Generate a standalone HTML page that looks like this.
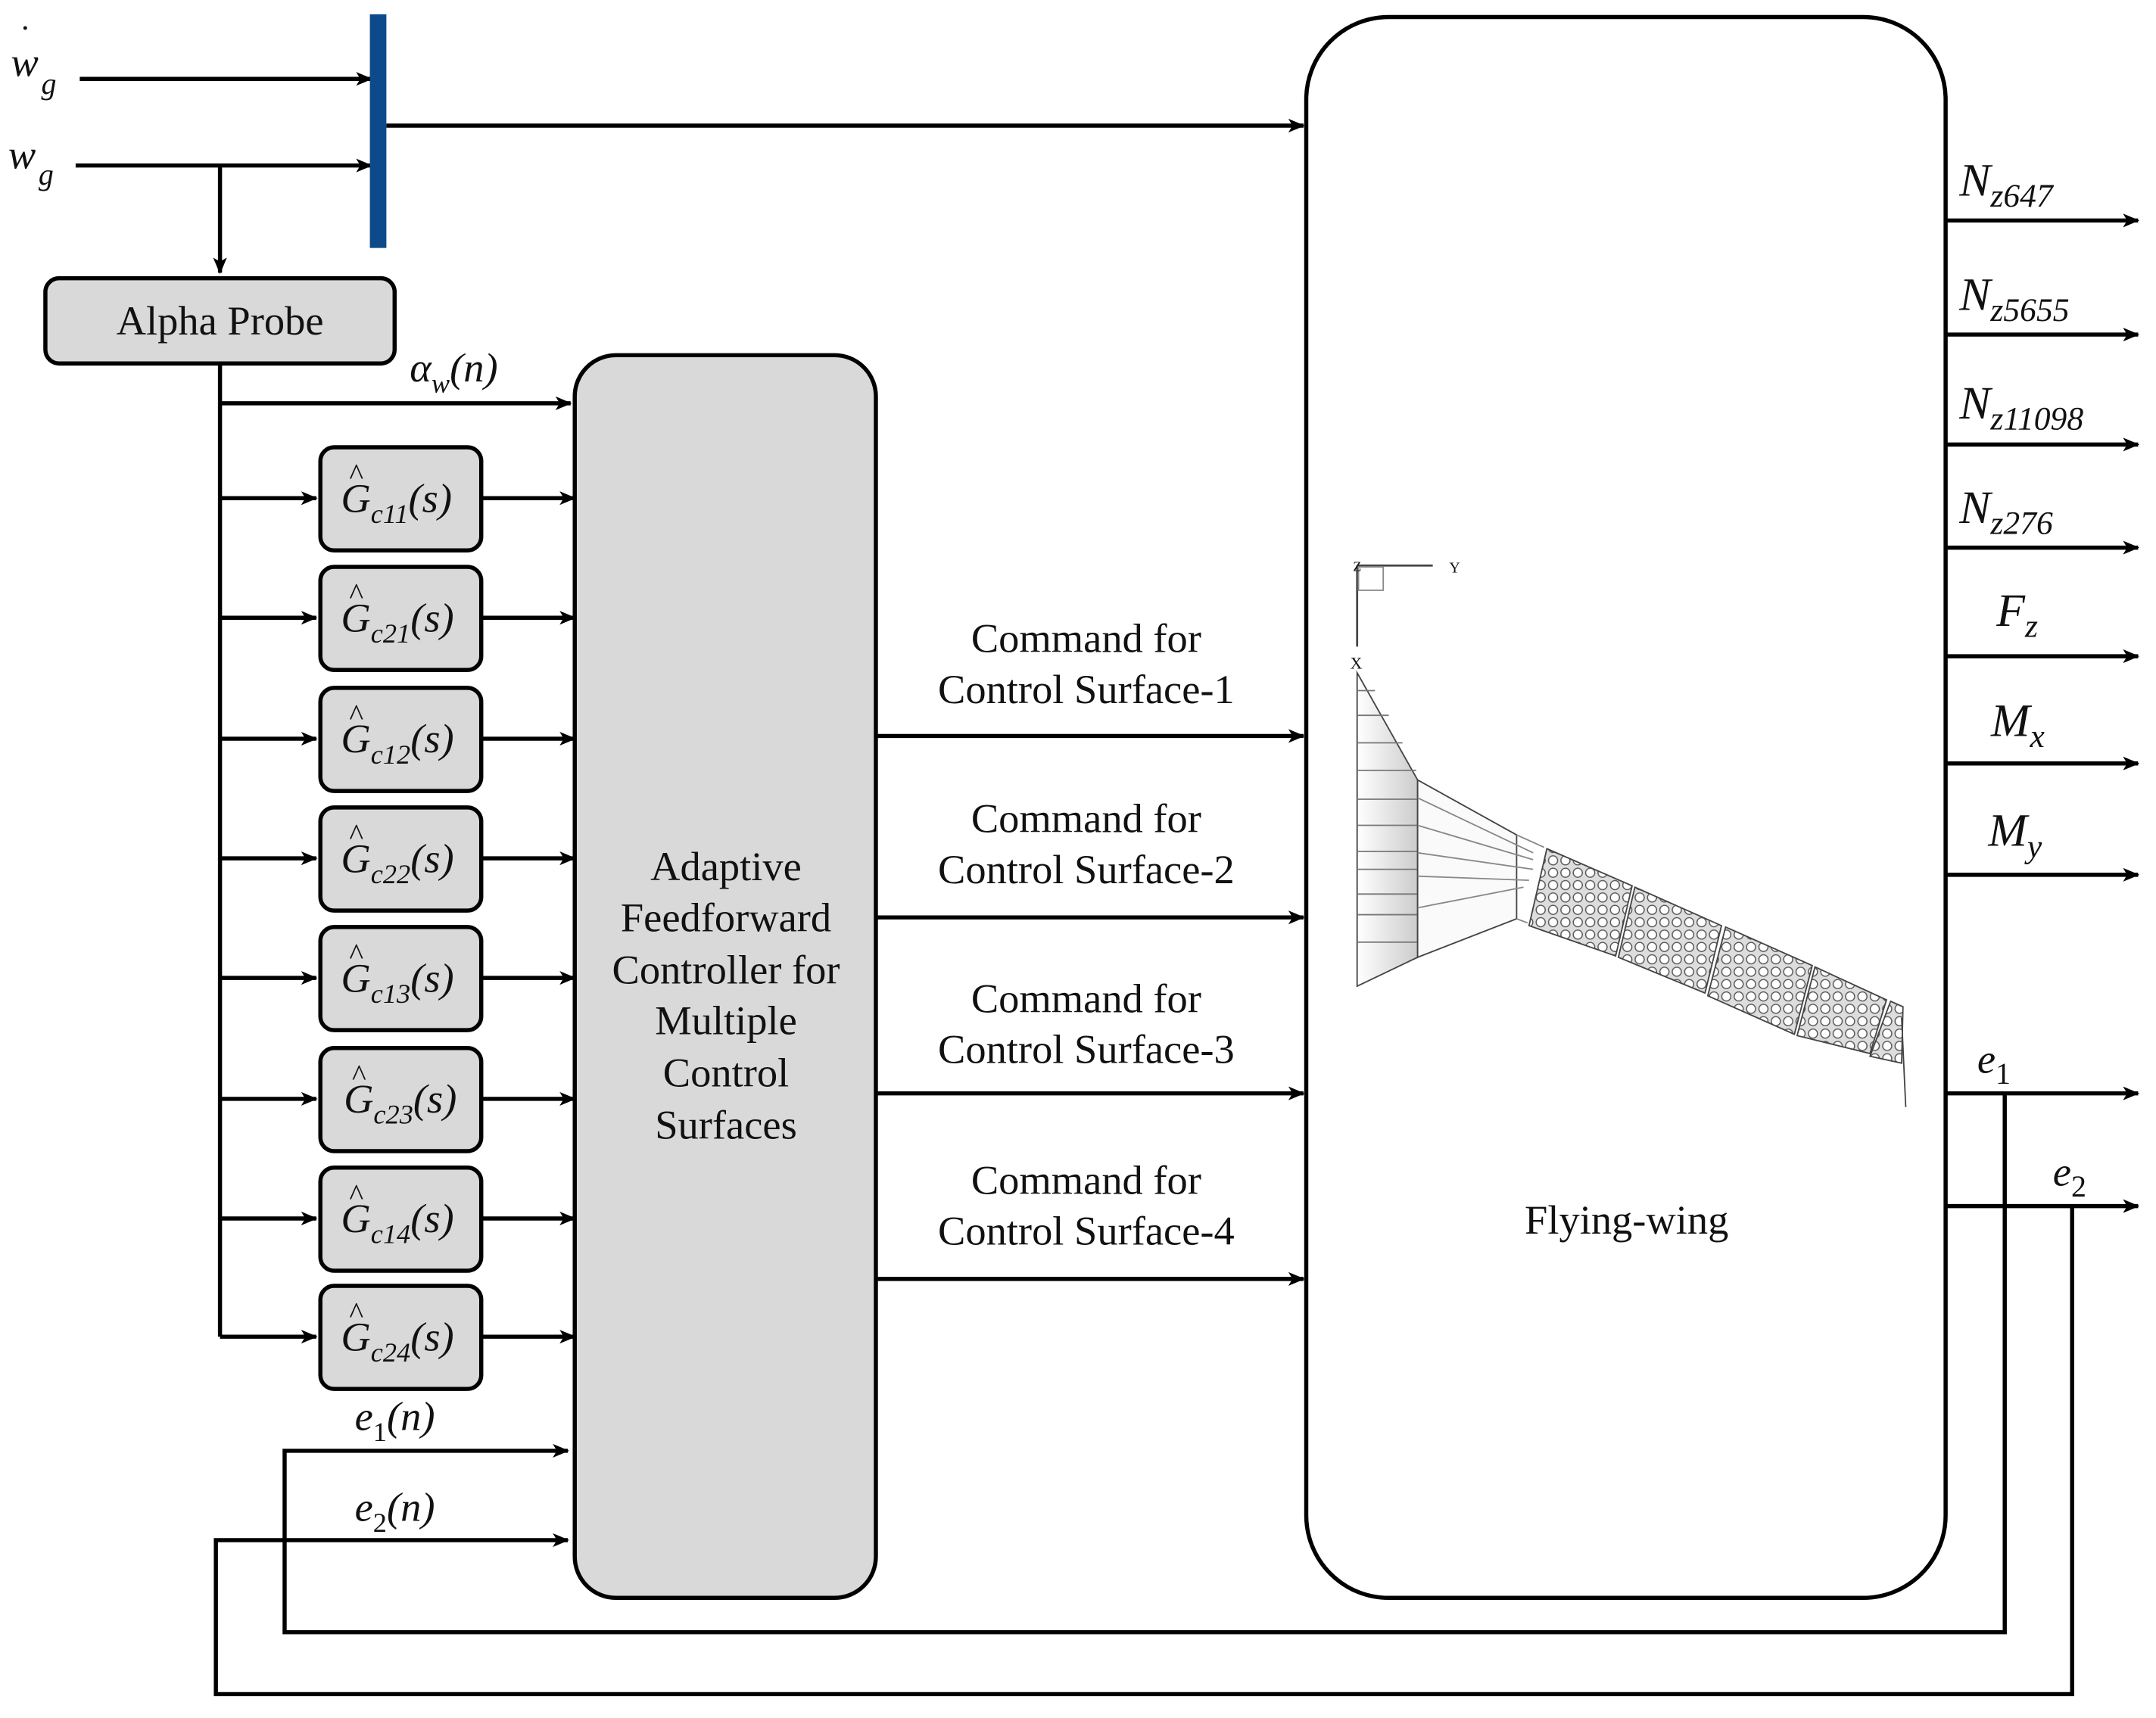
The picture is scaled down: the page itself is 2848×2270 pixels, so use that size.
<!DOCTYPE html>
<html><head><meta charset="utf-8"><style>
html,body{margin:0;padding:0;background:#fff}
svg{display:block}
text{font-family:"Liberation Serif",serif;fill:#111}
.i{font-style:italic}
</style></head><body>
<svg width="2848" height="2270" viewBox="0 0 1568 1249" xmlns="http://www.w3.org/2000/svg">
<defs>
<marker id="a" markerWidth="12" markerHeight="10" refX="11" refY="5" orient="auto" markerUnits="userSpaceOnUse" viewBox="0 0 12 10">
<path d="M0,0 L12,5 L0,10 L3,5 Z" fill="#000"/></marker>
<pattern id="c" width="9" height="9" patternUnits="userSpaceOnUse">
<rect width="9" height="9" fill="#ddd"/><circle cx="4.5" cy="4.5" r="3.3" fill="#fff" stroke="#555" stroke-width="0.8"/></pattern>
<linearGradient id="g" x1="0" x2="1"><stop offset="0" stop-color="#fff"/><stop offset="1" stop-color="#ccc"/></linearGradient>
</defs>
<g stroke="#000" stroke-width="3" fill="none">
<line x1="58" y1="57" x2="270" y2="57" marker-end="url(#a)"/>
<line x1="55" y1="120" x2="270" y2="120" marker-end="url(#a)"/>
<line x1="160" y1="120" x2="160" y2="198" marker-end="url(#a)"/>
<line x1="281" y1="91" x2="948" y2="91" marker-end="url(#a)"/>
<rect x="33" y="202" width="254" height="62" rx="10" fill="#d9d9d9"/>
<line x1="160" y1="264" x2="160" y2="972"/>
<line x1="160" y1="293" x2="415" y2="293" marker-end="url(#a)"/>
<rect x="418" y="258" width="219" height="904" rx="30" fill="#d9d9d9"/>
<rect x="950" y="12" width="465" height="1150" rx="60" fill="#fff"/>
<line x1="637" y1="535" x2="948" y2="535" marker-end="url(#a)"/>
<line x1="637" y1="667" x2="948" y2="667" marker-end="url(#a)"/>
<line x1="637" y1="795" x2="948" y2="795" marker-end="url(#a)"/>
<line x1="637" y1="930" x2="948" y2="930" marker-end="url(#a)"/>
<line x1="1415" y1="160" x2="1555" y2="160" marker-end="url(#a)"/>
<line x1="1415" y1="243" x2="1555" y2="243" marker-end="url(#a)"/>
<line x1="1415" y1="323" x2="1555" y2="323" marker-end="url(#a)"/>
<line x1="1415" y1="398" x2="1555" y2="398" marker-end="url(#a)"/>
<line x1="1415" y1="477" x2="1555" y2="477" marker-end="url(#a)"/>
<line x1="1415" y1="555" x2="1555" y2="555" marker-end="url(#a)"/>
<line x1="1415" y1="636" x2="1555" y2="636" marker-end="url(#a)"/>
<line x1="1415" y1="795" x2="1555" y2="795" marker-end="url(#a)"/>
<line x1="1415" y1="877" x2="1555" y2="877" marker-end="url(#a)"/>
<polyline points="1458,795 1458,1187 207,1187 207,1055 413,1055" marker-end="url(#a)"/>
<polyline points="1507,877 1507,1232 157,1232 157,1120 413,1120" marker-end="url(#a)"/>
</g>
<rect x="269" y="10" width="12" height="170" fill="#0d4a8a"/>
<g stroke="#000" stroke-width="3">
<line x1="160" y1="362" x2="230" y2="362" marker-end="url(#a)"/><rect x="233" y="325" width="117" height="75" rx="10" fill="#d9d9d9"/><line x1="350" y1="362" x2="418" y2="362" marker-end="url(#a)"/>
<line x1="160" y1="449" x2="230" y2="449" marker-end="url(#a)"/><rect x="233" y="412" width="117" height="75" rx="10" fill="#d9d9d9"/><line x1="350" y1="449" x2="418" y2="449" marker-end="url(#a)"/>
<line x1="160" y1="537" x2="230" y2="537" marker-end="url(#a)"/><rect x="233" y="500" width="117" height="75" rx="10" fill="#d9d9d9"/><line x1="350" y1="537" x2="418" y2="537" marker-end="url(#a)"/>
<line x1="160" y1="624" x2="230" y2="624" marker-end="url(#a)"/><rect x="233" y="587" width="117" height="75" rx="10" fill="#d9d9d9"/><line x1="350" y1="624" x2="418" y2="624" marker-end="url(#a)"/>
<line x1="160" y1="711" x2="230" y2="711" marker-end="url(#a)"/><rect x="233" y="674" width="117" height="75" rx="10" fill="#d9d9d9"/><line x1="350" y1="711" x2="418" y2="711" marker-end="url(#a)"/>
<line x1="160" y1="799" x2="230" y2="799" marker-end="url(#a)"/><rect x="233" y="762" width="117" height="75" rx="10" fill="#d9d9d9"/><line x1="350" y1="799" x2="418" y2="799" marker-end="url(#a)"/>
<line x1="160" y1="886" x2="230" y2="886" marker-end="url(#a)"/><rect x="233" y="849" width="117" height="75" rx="10" fill="#d9d9d9"/><line x1="350" y1="886" x2="418" y2="886" marker-end="url(#a)"/>
<line x1="160" y1="972" x2="230" y2="972" marker-end="url(#a)"/><rect x="233" y="935" width="117" height="75" rx="10" fill="#d9d9d9"/><line x1="350" y1="972" x2="418" y2="972" marker-end="url(#a)"/>
</g>
<g stroke="#444" stroke-width="1" fill="none">
<line x1="987" y1="411" x2="1042" y2="411" stroke-width="1.5"/><line x1="987" y1="411" x2="987" y2="470" stroke-width="1.5"/>
<rect x="988" y="412" width="18" height="17" stroke="#888"/>
<polygon points="987,489 1031,567 1031,696 987,717" fill="url(#g)"/>
<g stroke="#777"><line x1="987" y1="502" x2="1000" y2="502"/><line x1="987" y1="520" x2="1010" y2="520"/><line x1="987" y1="540" x2="1020" y2="540"/><line x1="987" y1="560" x2="1030" y2="560"/><line x1="987" y1="581" x2="1031" y2="581"/><line x1="987" y1="600" x2="1031" y2="600"/><line x1="987" y1="619" x2="1031" y2="619"/><line x1="987" y1="632" x2="1031" y2="632"/><line x1="987" y1="650" x2="1031" y2="650"/><line x1="987" y1="665" x2="1031" y2="665"/><line x1="987" y1="685" x2="1031" y2="685"/></g>
<polygon points="1031,567 1103,607 1103,668 1031,696" fill="#fafafa"/>
<g stroke="#888"><line x1="1031" y1="580" x2="1115" y2="620"/><line x1="1031" y1="600" x2="1115" y2="625"/><line x1="1031" y1="620" x2="1115" y2="632"/><line x1="1031" y1="637" x2="1112" y2="640"/><line x1="1031" y1="660" x2="1108" y2="645"/><line x1="1103" y1="607" x2="1123" y2="616"/><line x1="1103" y1="668" x2="1111" y2="671"/></g>
<polygon points="1125,617 1187,644 1175,695 1112,673" fill="url(#c)"/>
<polygon points="1189,645 1252,673 1240,722 1177,696" fill="url(#c)"/>
<polygon points="1255,674 1318,702 1305,752 1242,724" fill="url(#c)"/>
<polygon points="1320,703 1372,727 1360,766 1307,753" fill="url(#c)"/>
<polygon points="1375,728 1384,732 1383,773 1360,768" fill="url(#c)"/>
<line x1="1383" y1="740" x2="1386" y2="805"/>
</g>
<text x="984" y="415" font-family="Liberation Sans" font-size="10">Z</text>
<text x="1054" y="416" font-family="Liberation Sans" font-size="11">Y</text>
<text x="982" y="486" font-family="Liberation Sans" font-size="12">X</text>
<g font-size="30">
<text x="8" y="55" class="i">w</text><text x="14" y="36" font-size="26">˙</text><text x="30" y="68" class="i" font-size="22">g</text>
<text x="6" y="122" class="i">w</text><text x="28" y="134" class="i" font-size="22">g</text>
<text x="160" y="243" text-anchor="middle">Alpha Probe</text>
<text x="298" y="277" class="i">α<tspan font-size="20" dy="8">w</tspan><tspan dy="-8">(n)</tspan></text>
<g class="i">
<text x="248" y="372">G<tspan font-size="20" dy="8">c11</tspan><tspan dy="-8">(s)</tspan></text>
<text x="248" y="459">G<tspan font-size="20" dy="8">c21</tspan><tspan dy="-8">(s)</tspan></text>
<text x="248" y="547">G<tspan font-size="20" dy="8">c12</tspan><tspan dy="-8">(s)</tspan></text>
<text x="248" y="634">G<tspan font-size="20" dy="8">c22</tspan><tspan dy="-8">(s)</tspan></text>
<text x="248" y="721">G<tspan font-size="20" dy="8">c13</tspan><tspan dy="-8">(s)</tspan></text>
<text x="250" y="809">G<tspan font-size="20" dy="8">c23</tspan><tspan dy="-8">(s)</tspan></text>
<text x="248" y="896">G<tspan font-size="20" dy="8">c14</tspan><tspan dy="-8">(s)</tspan></text>
<text x="248" y="982">G<tspan font-size="20" dy="8">c24</tspan><tspan dy="-8">(s)</tspan></text>
</g>
<g font-size="22"><text x="254" y="352">^</text><text x="254" y="439">^</text><text x="254" y="527">^</text><text x="254" y="614">^</text><text x="254" y="701">^</text><text x="256" y="789">^</text><text x="254" y="876">^</text><text x="254" y="962">^</text></g>
<text x="258" y="1040" class="i">e<tspan font-size="20" dy="8" font-style="normal">1</tspan><tspan dy="-8">(n)</tspan></text>
<text x="258" y="1106" class="i">e<tspan font-size="20" dy="8" font-style="normal">2</tspan><tspan dy="-8">(n)</tspan></text>
<g text-anchor="middle"><text x="528" y="640">Adaptive</text><text x="528" y="677">Feedforward</text><text x="528" y="715">Controller for</text><text x="528" y="752">Multiple</text><text x="528" y="790">Control</text><text x="528" y="828">Surfaces</text>
<text x="790" y="474">Command for</text><text x="790" y="511">Control Surface-1</text>
<text x="790" y="605">Command for</text><text x="790" y="642">Control Surface-2</text>
<text x="790" y="736">Command for</text><text x="790" y="773">Control Surface-3</text>
<text x="790" y="868">Command for</text><text x="790" y="905">Control Surface-4</text>
<text x="1183" y="897">Flying-wing</text></g>
<g class="i" font-size="34">
<text x="1425" y="142">N<tspan font-size="24" dy="8">z647</tspan></text>
<text x="1425" y="225">N<tspan font-size="24" dy="8">z5655</tspan></text>
<text x="1425" y="304">N<tspan font-size="24" dy="8">z11098</tspan></text>
<text x="1425" y="380">N<tspan font-size="24" dy="8">z276</tspan></text>
<text x="1452" y="455">F<tspan font-size="24" dy="8">z</tspan></text>
<text x="1448" y="535">M<tspan font-size="24" dy="8">x</tspan></text>
<text x="1446" y="615">M<tspan font-size="24" dy="8">y</tspan></text>
<text x="1438" y="780" font-size="30">e<tspan font-size="22" dy="8" font-style="normal">1</tspan></text>
<text x="1493" y="862" font-size="30">e<tspan font-size="22" dy="8" font-style="normal">2</tspan></text>
</g>
</g>
</svg>
</body></html>
